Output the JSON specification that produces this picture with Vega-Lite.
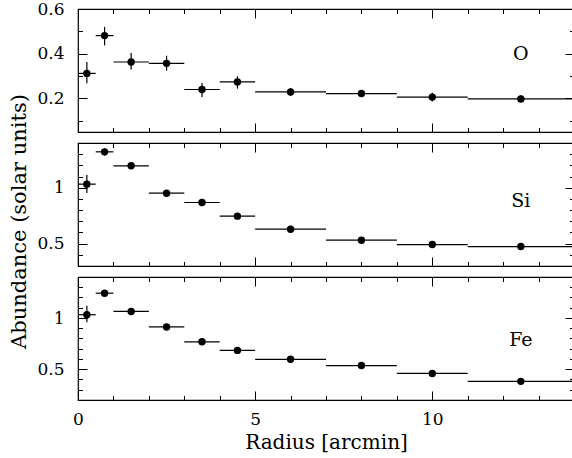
{
  "$schema": "https://vega.github.io/schema/vega-lite/v6.json",
  "padding": {"left": 7, "top": -1, "right": 0, "bottom": 0},
  "spacing": 11,
  "bounds": "flush",
  "background": "white",
  "config": {
    "view": {"stroke": "black", "strokeWidth": 1.2},
    "axis": {
      "domain": false,
      "grid": false,
      "labelFlush": false,
      "tickColor": "black",
      "tickWidth": 1,
      "labelFont": "DejaVu Serif",
      "labelFontSize": 17,
      "labelColor": "black",
      "titleFont": "DejaVu Serif",
      "titleFontSize": 20,
      "titleFontWeight": "normal",
      "titleColor": "black"
    }
  },
  "datasets": {
    "O": [
      {"r": 0.25, "rlo": 0, "rhi": 0.5, "a": 0.312, "alo": 0.268, "ahi": 0.363},
      {"r": 0.75, "rlo": 0.5, "rhi": 1, "a": 0.481, "alo": 0.437, "ahi": 0.52},
      {"r": 1.5, "rlo": 1, "rhi": 2, "a": 0.363, "alo": 0.329, "ahi": 0.403},
      {"r": 2.5, "rlo": 2, "rhi": 3, "a": 0.357, "alo": 0.324, "ahi": 0.391},
      {"r": 3.5, "rlo": 3, "rhi": 4, "a": 0.24, "alo": 0.207, "ahi": 0.269},
      {"r": 4.5, "rlo": 4, "rhi": 5, "a": 0.274, "alo": 0.244, "ahi": 0.299},
      {"r": 6, "rlo": 5, "rhi": 7, "a": 0.229, "alo": 0.212, "ahi": 0.246},
      {"r": 8, "rlo": 7, "rhi": 9, "a": 0.222, "alo": 0.207, "ahi": 0.237},
      {"r": 10, "rlo": 9, "rhi": 11, "a": 0.206, "alo": 0.186, "ahi": 0.226},
      {"r": 12.5, "rlo": 11, "rhi": 14, "a": 0.198, "alo": 0.182, "ahi": 0.214}
    ],
    "Si": [
      {"r": 0.25, "rlo": 0, "rhi": 0.5, "a": 1.032, "alo": 0.952, "ahi": 1.113},
      {"r": 0.75, "rlo": 0.5, "rhi": 1, "a": 1.321, "alo": 1.286, "ahi": 1.351},
      {"r": 1.5, "rlo": 1, "rhi": 2, "a": 1.196, "alo": 1.175, "ahi": 1.217},
      {"r": 2.5, "rlo": 2, "rhi": 3, "a": 0.951, "alo": 0.935, "ahi": 0.967},
      {"r": 3.5, "rlo": 3, "rhi": 4, "a": 0.868, "alo": 0.853, "ahi": 0.883},
      {"r": 4.5, "rlo": 4, "rhi": 5, "a": 0.746, "alo": 0.733, "ahi": 0.759},
      {"r": 6, "rlo": 5, "rhi": 7, "a": 0.629, "alo": 0.618, "ahi": 0.64},
      {"r": 8, "rlo": 7, "rhi": 9, "a": 0.531, "alo": 0.52, "ahi": 0.542},
      {"r": 10, "rlo": 9, "rhi": 11, "a": 0.492, "alo": 0.48, "ahi": 0.504},
      {"r": 12.5, "rlo": 11, "rhi": 14, "a": 0.474, "alo": 0.464, "ahi": 0.484}
    ],
    "Fe": [
      {"r": 0.25, "rlo": 0, "rhi": 0.5, "a": 1.032, "alo": 0.958, "ahi": 1.119},
      {"r": 0.75, "rlo": 0.5, "rhi": 1, "a": 1.242, "alo": 1.222, "ahi": 1.262},
      {"r": 1.5, "rlo": 1, "rhi": 2, "a": 1.064, "alo": 1.048, "ahi": 1.08},
      {"r": 2.5, "rlo": 2, "rhi": 3, "a": 0.913, "alo": 0.9, "ahi": 0.926},
      {"r": 3.5, "rlo": 3, "rhi": 4, "a": 0.768, "alo": 0.756, "ahi": 0.78},
      {"r": 4.5, "rlo": 4, "rhi": 5, "a": 0.684, "alo": 0.672, "ahi": 0.696},
      {"r": 6, "rlo": 5, "rhi": 7, "a": 0.597, "alo": 0.587, "ahi": 0.607},
      {"r": 8, "rlo": 7, "rhi": 9, "a": 0.536, "alo": 0.526, "ahi": 0.546},
      {"r": 10, "rlo": 9, "rhi": 11, "a": 0.459, "alo": 0.449, "ahi": 0.469},
      {"r": 12.5, "rlo": 11, "rhi": 14, "a": 0.382, "alo": 0.372, "ahi": 0.392}
    ]
  },
  "vconcat": [
    {
      "width": 496, "height": 123,
      "data": {"name": "O"},
      "resolve": {"axis": {"x": "independent", "y": "independent"}},
      "layer": [
        {
          "mark": {"type": "rule", "color": "black", "strokeWidth": 1.2},
          "encoding": {
            "x": {"field": "rlo", "type": "quantitative", "scale": {"domain": [0, 14], "nice": false, "zero": false},
              "axis": {"orient": "bottom", "values": [0,1,2,3,4,5,6,7,8,9,10,11,12,13,14], "labels": false, "title": null,
                "tickSize": {"condition": {"test": "datum.value % 5 === 0", "value": -9}, "value": -4.5}}},
            "x2": {"field": "rhi"},
            "y": {"field": "a", "type": "quantitative", "scale": {"domain": [0.05, 0.6], "nice": false, "zero": false},
              "axis": {"orient": "left", "values": [0.1,0.2,0.3,0.4,0.5,0.6], "title": null, "format": "~g", "labelPadding": 23,
                "labelExpr": "abs(datum.value*5 - round(datum.value*5)) < 0.001 ? datum.label : ''",
                "tickSize": {"condition": {"test": "abs(datum.value*5 - round(datum.value*5)) < 0.001", "value": -9}, "value": -4.5}}}
          }
        },
        {
          "mark": {"type": "rule", "color": "black", "strokeWidth": 1.2},
          "encoding": {
            "x": {"field": "r", "type": "quantitative",
              "axis": {"orient": "top", "values": [0,1,2,3,4,5,6,7,8,9,10,11,12,13,14], "labels": false, "title": null,
                "tickSize": {"condition": {"test": "datum.value % 5 === 0", "value": -9}, "value": -4.5}}},
            "y": {"field": "alo", "type": "quantitative",
              "axis": {"orient": "right", "values": [0.1,0.2,0.3,0.4,0.5,0.6], "labels": false, "title": null,
                "tickSize": {"condition": {"test": "abs(datum.value*5 - round(datum.value*5)) < 0.001", "value": -9}, "value": -4.5}}},
            "y2": {"field": "ahi"}
          }
        },
        {
          "mark": {"type": "circle", "size": 55, "color": "black", "opacity": 1},
          "encoding": {
            "x": {"field": "r", "type": "quantitative", "axis": null},
            "y": {"field": "a", "type": "quantitative", "axis": null}
          }
        },
        {
          "data": {"values": [{}]},
          "mark": {"type": "text", "font": "DejaVu Serif", "fontSize": 19, "color": "black"},
          "encoding": {
            "x": {"datum": 12.5, "type": "quantitative", "axis": null},
            "y": {"datum": 0.4, "type": "quantitative", "axis": null},
            "text": {"value": "O"}
          }
        }
      ]
    },
    {
      "width": 496, "height": 123,
      "data": {"name": "Si"},
      "resolve": {"axis": {"x": "independent", "y": "independent"}},
      "layer": [
        {
          "mark": {"type": "rule", "color": "black", "strokeWidth": 1.2},
          "encoding": {
            "x": {"field": "rlo", "type": "quantitative", "scale": {"domain": [0, 14], "nice": false, "zero": false},
              "axis": {"orient": "bottom", "values": [0,1,2,3,4,5,6,7,8,9,10,11,12,13,14], "labels": false, "title": null,
                "tickSize": {"condition": {"test": "datum.value % 5 === 0", "value": -9}, "value": -4.5}}},
            "x2": {"field": "rhi"},
            "y": {"field": "a", "type": "quantitative", "scale": {"domain": [0.3, 1.4], "nice": false, "zero": false},
              "axis": {"orient": "left", "values": [0.4,0.5,0.6,0.7,0.8,0.9,1.0,1.1,1.2,1.3,1.4], "format": "~g", "labelPadding": 23,
                "title": "Abundance (solar units)", "titleFontSize": 21, "titleX": -58.5, "titleY": 78, "titleAngle": -90, "titleBaseline": "middle", "titleAlign": "center",
                "labelExpr": "abs(datum.value*2 - round(datum.value*2)) < 0.001 ? datum.label : ''",
                "tickSize": {"condition": {"test": "abs(datum.value*2 - round(datum.value*2)) < 0.001", "value": -9}, "value": -4.5}}}
          }
        },
        {
          "mark": {"type": "rule", "color": "black", "strokeWidth": 1.2},
          "encoding": {
            "x": {"field": "r", "type": "quantitative",
              "axis": {"orient": "top", "values": [0,1,2,3,4,5,6,7,8,9,10,11,12,13,14], "labels": false, "title": null,
                "tickSize": {"condition": {"test": "datum.value % 5 === 0", "value": -9}, "value": -4.5}}},
            "y": {"field": "alo", "type": "quantitative",
              "axis": {"orient": "right", "values": [0.4,0.5,0.6,0.7,0.8,0.9,1.0,1.1,1.2,1.3,1.4], "labels": false, "title": null,
                "tickSize": {"condition": {"test": "abs(datum.value*2 - round(datum.value*2)) < 0.001", "value": -9}, "value": -4.5}}},
            "y2": {"field": "ahi"}
          }
        },
        {
          "mark": {"type": "circle", "size": 55, "color": "black", "opacity": 1},
          "encoding": {
            "x": {"field": "r", "type": "quantitative", "axis": null},
            "y": {"field": "a", "type": "quantitative", "axis": null}
          }
        },
        {
          "data": {"values": [{}]},
          "mark": {"type": "text", "font": "DejaVu Serif", "fontSize": 19, "color": "black"},
          "encoding": {
            "x": {"datum": 12.5, "type": "quantitative", "axis": null},
            "y": {"datum": 0.88, "type": "quantitative", "axis": null},
            "text": {"value": "Si"}
          }
        }
      ]
    },
    {
      "width": 496, "height": 123,
      "data": {"name": "Fe"},
      "resolve": {"axis": {"x": "independent", "y": "independent"}},
      "layer": [
        {
          "mark": {"type": "rule", "color": "black", "strokeWidth": 1.2},
          "encoding": {
            "x": {"field": "rlo", "type": "quantitative", "scale": {"domain": [0, 14], "nice": false, "zero": false},
              "axis": {"orient": "bottom", "values": [0,1,2,3,4,5,6,7,8,9,10,11,12,13,14], "format": "~g", "labelPadding": 20, "labelFlush": false,
                "labelExpr": "datum.value % 5 === 0 ? datum.label : ''",
                "title": "Radius [arcmin]", "titleY": 42, "titleBaseline": "middle",
                "tickSize": {"condition": {"test": "datum.value % 5 === 0", "value": -9}, "value": -4.5}}},
            "x2": {"field": "rhi"},
            "y": {"field": "a", "type": "quantitative", "scale": {"domain": [0.2, 1.4], "nice": false, "zero": false},
              "axis": {"orient": "left", "values": [0.3,0.4,0.5,0.6,0.7,0.8,0.9,1.0,1.1,1.2,1.3,1.4], "title": null, "format": "~g", "labelPadding": 23,
                "labelExpr": "abs(datum.value*2 - round(datum.value*2)) < 0.001 ? datum.label : ''",
                "tickSize": {"condition": {"test": "abs(datum.value*2 - round(datum.value*2)) < 0.001", "value": -9}, "value": -4.5}}}
          }
        },
        {
          "mark": {"type": "rule", "color": "black", "strokeWidth": 1.2},
          "encoding": {
            "x": {"field": "r", "type": "quantitative",
              "axis": {"orient": "top", "values": [0,1,2,3,4,5,6,7,8,9,10,11,12,13,14], "labels": false, "title": null,
                "tickSize": {"condition": {"test": "datum.value % 5 === 0", "value": -9}, "value": -4.5}}},
            "y": {"field": "alo", "type": "quantitative",
              "axis": {"orient": "right", "values": [0.3,0.4,0.5,0.6,0.7,0.8,0.9,1.0,1.1,1.2,1.3,1.4], "labels": false, "title": null,
                "tickSize": {"condition": {"test": "abs(datum.value*2 - round(datum.value*2)) < 0.001", "value": -9}, "value": -4.5}}},
            "y2": {"field": "ahi"}
          }
        },
        {
          "mark": {"type": "circle", "size": 55, "color": "black", "opacity": 1},
          "encoding": {
            "x": {"field": "r", "type": "quantitative", "axis": null},
            "y": {"field": "a", "type": "quantitative", "axis": null}
          }
        },
        {
          "data": {"values": [{}]},
          "mark": {"type": "text", "font": "DejaVu Serif", "fontSize": 19, "color": "black"},
          "encoding": {
            "x": {"datum": 12.5, "type": "quantitative", "axis": null},
            "y": {"datum": 0.79, "type": "quantitative", "axis": null},
            "text": {"value": "Fe"}
          }
        }
      ]
    }
  ]
}
